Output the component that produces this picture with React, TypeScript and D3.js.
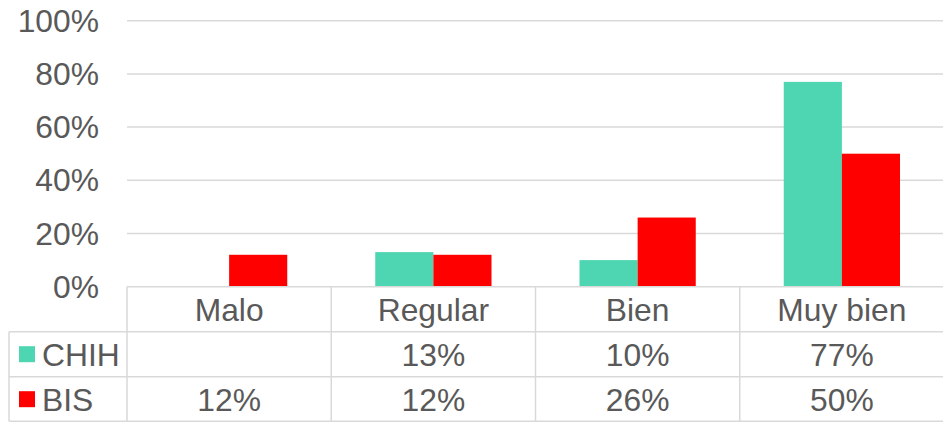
import React from "react";
import * as d3 from "d3";

const categories = ["Malo", "Regular", "Bien", "Muy bien"];
const seriesNames = ["CHIH", "BIS"];
const chihValues: (number | null)[] = [null, 0.13, 0.10, 0.77];
const bisValues: (number | null)[] = [0.12, 0.12, 0.26, 0.50];
const chihLabels = ["", "13%", "10%", "77%"];
const bisLabels = ["12%", "12%", "26%", "50%"];
const yTicks = [0, 0.2, 0.4, 0.6, 0.8, 1.0];
const colors = ["#4DD6B1", "#FF0000"];

const W = 943;
const H = 422;
const plotLeft = 127;
const plotRight = 944;
const yTop = 20.7;
const yBottom = 286.7;
const rowH = 45;
const tableLeft = 9;
const textColor = "#595959";
const lineColor = "#D9D9D9";
const fontFamily = "'Liberation Sans', Arial, sans-serif";
const fontSize = 31.8;

export default function App() {
  const x = d3.scaleBand<string>().domain(categories).range([plotLeft, plotRight]).padding(0);
  const bw = x.bandwidth();
  const groupPad = 44;
  const inner = d3.scaleBand<string>().domain(seriesNames).range([groupPad, bw - groupPad]).padding(0);
  const y = d3.scaleLinear().domain([0, 1]).range([yBottom, yTop]);
  const fmt = d3.format(".0%");
  const series = [chihValues, bisValues];
  const rowLabels = [chihLabels, bisLabels];

  const headerTop = yBottom;
  const row1Top = headerTop + rowH;
  const row2Top = row1Top + rowH;
  const tableBottom = row2Top + rowH - 0.5;

  return (
    <svg width={W} height={H} style={{ position: "absolute", left: 0, top: 0, background: "#fff" }}>
      {yTicks.filter((t) => t > 0).map((t) => (
        <line key={t} x1={plotLeft} x2={plotRight} y1={y(t)} y2={y(t)} stroke={lineColor} strokeWidth={1.5} />
      ))}
      {yTicks.map((t) => (
        <text key={"l" + t} x={99} y={y(t)} textAnchor="end" dominantBaseline="central"
          fontFamily={fontFamily} fontSize={fontSize} fill={textColor}>{fmt(t)}</text>
      ))}
      {categories.map((c, i) =>
        series.map((s, j) => {
          const v = s[i];
          if (v == null) return null;
          return (
            <rect key={c + j} x={(x(c) as number) + (inner(seriesNames[j]) as number)} y={y(v)}
              width={inner.bandwidth()} height={y(0) - y(v)} fill={colors[j]} />
          );
        })
      )}
      <line x1={plotLeft} x2={plotRight} y1={headerTop} y2={headerTop} stroke={lineColor} strokeWidth={1.5} />
      <line x1={tableLeft} x2={plotRight} y1={row1Top} y2={row1Top} stroke={lineColor} strokeWidth={1.5} />
      <line x1={tableLeft} x2={plotRight} y1={row2Top} y2={row2Top} stroke={lineColor} strokeWidth={1.5} />
      <line x1={tableLeft} x2={plotRight} y1={tableBottom} y2={tableBottom} stroke={lineColor} strokeWidth={1.5} />
      <line x1={tableLeft} x2={tableLeft} y1={row1Top} y2={tableBottom} stroke={lineColor} strokeWidth={1.5} />
      {categories.map((c) => (
        <line key={"v" + c} x1={x(c) as number} x2={x(c) as number} y1={headerTop} y2={tableBottom} stroke={lineColor} strokeWidth={1.5} />
      ))}
      {categories.map((c) => (
        <text key={"h" + c} x={(x(c) as number) + bw / 2} y={headerTop + rowH / 2 + 1} textAnchor="middle"
          dominantBaseline="central" fontFamily={fontFamily} fontSize={fontSize} fill={textColor}>{c}</text>
      ))}
      {seriesNames.map((name, j) => {
        const top = j === 0 ? row1Top : row2Top;
        return (
          <g key={name}>
            <rect x={19} y={top + rowH / 2 - 8} width={16} height={16} fill={colors[j]} />
            <text x={42} y={top + rowH / 2 + 1} dominantBaseline="central" fontFamily={fontFamily}
              fontSize={fontSize} fill={textColor}>{name}</text>
            {categories.map((c, i) => (
              <text key={c} x={(x(c) as number) + bw / 2} y={top + rowH / 2 + 1} textAnchor="middle"
                dominantBaseline="central" fontFamily={fontFamily} fontSize={fontSize} fill={textColor}>
                {rowLabels[j][i]}
              </text>
            ))}
          </g>
        );
      })}
    </svg>
  );
}
